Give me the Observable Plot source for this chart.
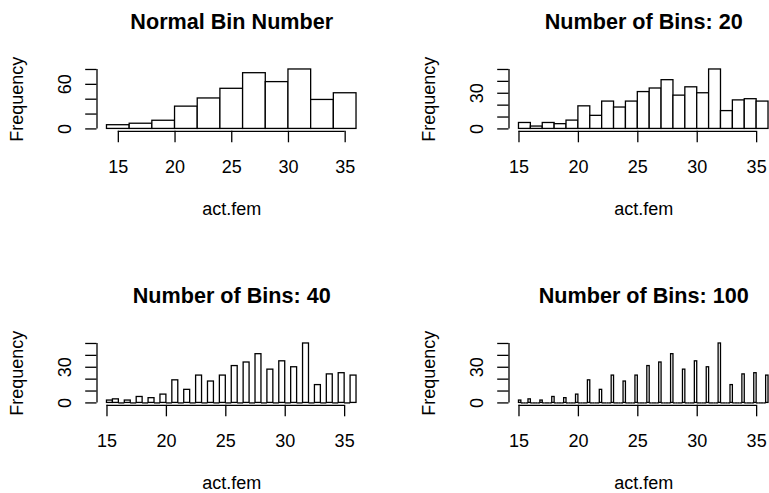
<!DOCTYPE html>
<html>
<head>
<meta charset="utf-8">
<script src="https://cdn.jsdelivr.net/npm/d3@7"></script>
<script src="https://cdn.jsdelivr.net/npm/@observablehq/plot@0.6"></script>
<style>
  html, body { margin: 0; padding: 0; background: #fff; }
  #chart { position: relative; width: 769px; height: 493px; overflow: hidden; background: #fff; }
  #chart > div, #chart > svg { position: absolute; }
</style>
</head>
<body>
<div id="chart"></div>
<script>
// ACT scores (females) and their frequencies
const scores = [15,16,17,18,19,20,21,22,23,24,25,26,27,28,29,30,31,32,33,34,35,36];
const counts = [2,3,2,5,4,7,19,11,23,18,23,31,34,41,28,35,30,50,15,24,25,23];

const titles = ["Normal Bin Number", "Number of Bins: 20", "Number of Bins: 40", "Number of Bins: 100"];
const breakStarts = [14, 15, 15, 15];
const breakSteps = [2, 1, 0.5, 0.2];
const breakEnd = 36;
const xTicks = [15, 20, 25, 30, 35];
const yTicksList = [[0,20,40,60,80],[0,10,20,30,40,50],[0,10,20,30,40,50],[0,10,20,30,40,50]];
const yLabelsList = [[0,60],[0,30],[0,30],[0,30]];
const xLabel = "act.fem";
const yLabel = "Frequency";

// R-style histogram: right-closed bins, lowest break included
function hist(start, step) {
  const n = Math.round((breakEnd - start) / step);
  const br = d3.range(n + 1).map(i => +(start + i * step).toFixed(6));
  return d3.range(n).map(i => {
    const a = br[i], b = br[i + 1];
    let c = 0;
    scores.forEach((s, j) => { if ((s > a && s <= b) || (i === 0 && s === a)) c += counts[j]; });
    return {x1: a, x2: b, y1: 0, count: c};
  });
}

const font = "'Liberation Sans', Arial, Helvetica, sans-serif";
const colLeft = [0, 411.5];
const rowTop = [0, 274.4];
const SW = 1.3;

const root = document.getElementById("chart");
titles.forEach((title, k) => {
  const bins = hist(breakStarts[k], breakSteps[k]);
  const lo = bins[0].x1, hi = bins[bins.length - 1].x2, r = hi - lo;
  const ymax = d3.max(bins, d => d.count);
  const yTicks = yTicksList[k];
  const yDom = [-0.04 * ymax, 1.04 * ymax];
  const svg = Plot.plot({
    width: 430, height: 218,
    marginLeft: 96.5, marginTop: 66.6, marginRight: 64, marginBottom: 87.2,
    x: {domain: [lo - 0.04 * r, hi + 0.04 * r]},
    y: {domain: yDom},
    style: {fontFamily: font, background: "transparent", overflow: "visible", color: "black"},
    marks: [
      Plot.ruleY(bins.filter(d => d.count === 0), {x1: "x1", x2: "x2", y: "y1", stroke: "black", strokeWidth: SW}),
      Plot.rectY(bins.filter(d => d.count > 0), {x1: "x1", x2: "x2", y1: "y1", y2: "count", fill: "white", stroke: "black", strokeWidth: SW}),
      Plot.ruleY([{y: yDom[0], x1: d3.min(xTicks), x2: d3.max(xTicks)}], {y: "y", x1: "x1", x2: "x2", stroke: "black", strokeWidth: SW}),
      Plot.ruleX([{x: lo - 0.04 * r, y1: d3.min(yTicks), y2: d3.max(yTicks)}], {x: "x", y1: "y1", y2: "y2", stroke: "black", strokeWidth: SW}),
      Plot.axisX(xTicks, {tickSize: 11.5, tickPadding: 17, fontSize: 18, label: null, strokeWidth: SW}),
      Plot.axisY(yTicks, {tickSize: 11.3, tickFormat: () => "", label: null, strokeWidth: SW}),
      Plot.text(yLabelsList[k], {y: d => d, text: d => String(d), frameAnchor: "left", rotate: -90, dx: -26.5, lineAnchor: "bottom", textAnchor: "middle", fontSize: 18, fill: "black"}),
      Plot.text([yLabel], {text: d => d, frameAnchor: "left", rotate: -90, dx: -74.5, lineAnchor: "bottom", textAnchor: "middle", fontSize: 18, fill: "black"}),
      Plot.text([xLabel], {text: d => d, frameAnchor: "bottom", dy: 83.7, lineAnchor: "bottom", textAnchor: "middle", fontSize: 18, fill: "black"}),
      Plot.text([title], {text: d => d, frameAnchor: "top", dy: -38.1, lineAnchor: "bottom", textAnchor: "middle", fontSize: 21.6, fontWeight: "bold", fill: "black"})
    ]
  });
  svg.style.position = "absolute";
  svg.style.left = colLeft[k % 2] + "px";
  svg.style.top = rowTop[Math.floor(k / 2)] + "px";
  root.appendChild(svg);
});
</script>
</body>
</html>
